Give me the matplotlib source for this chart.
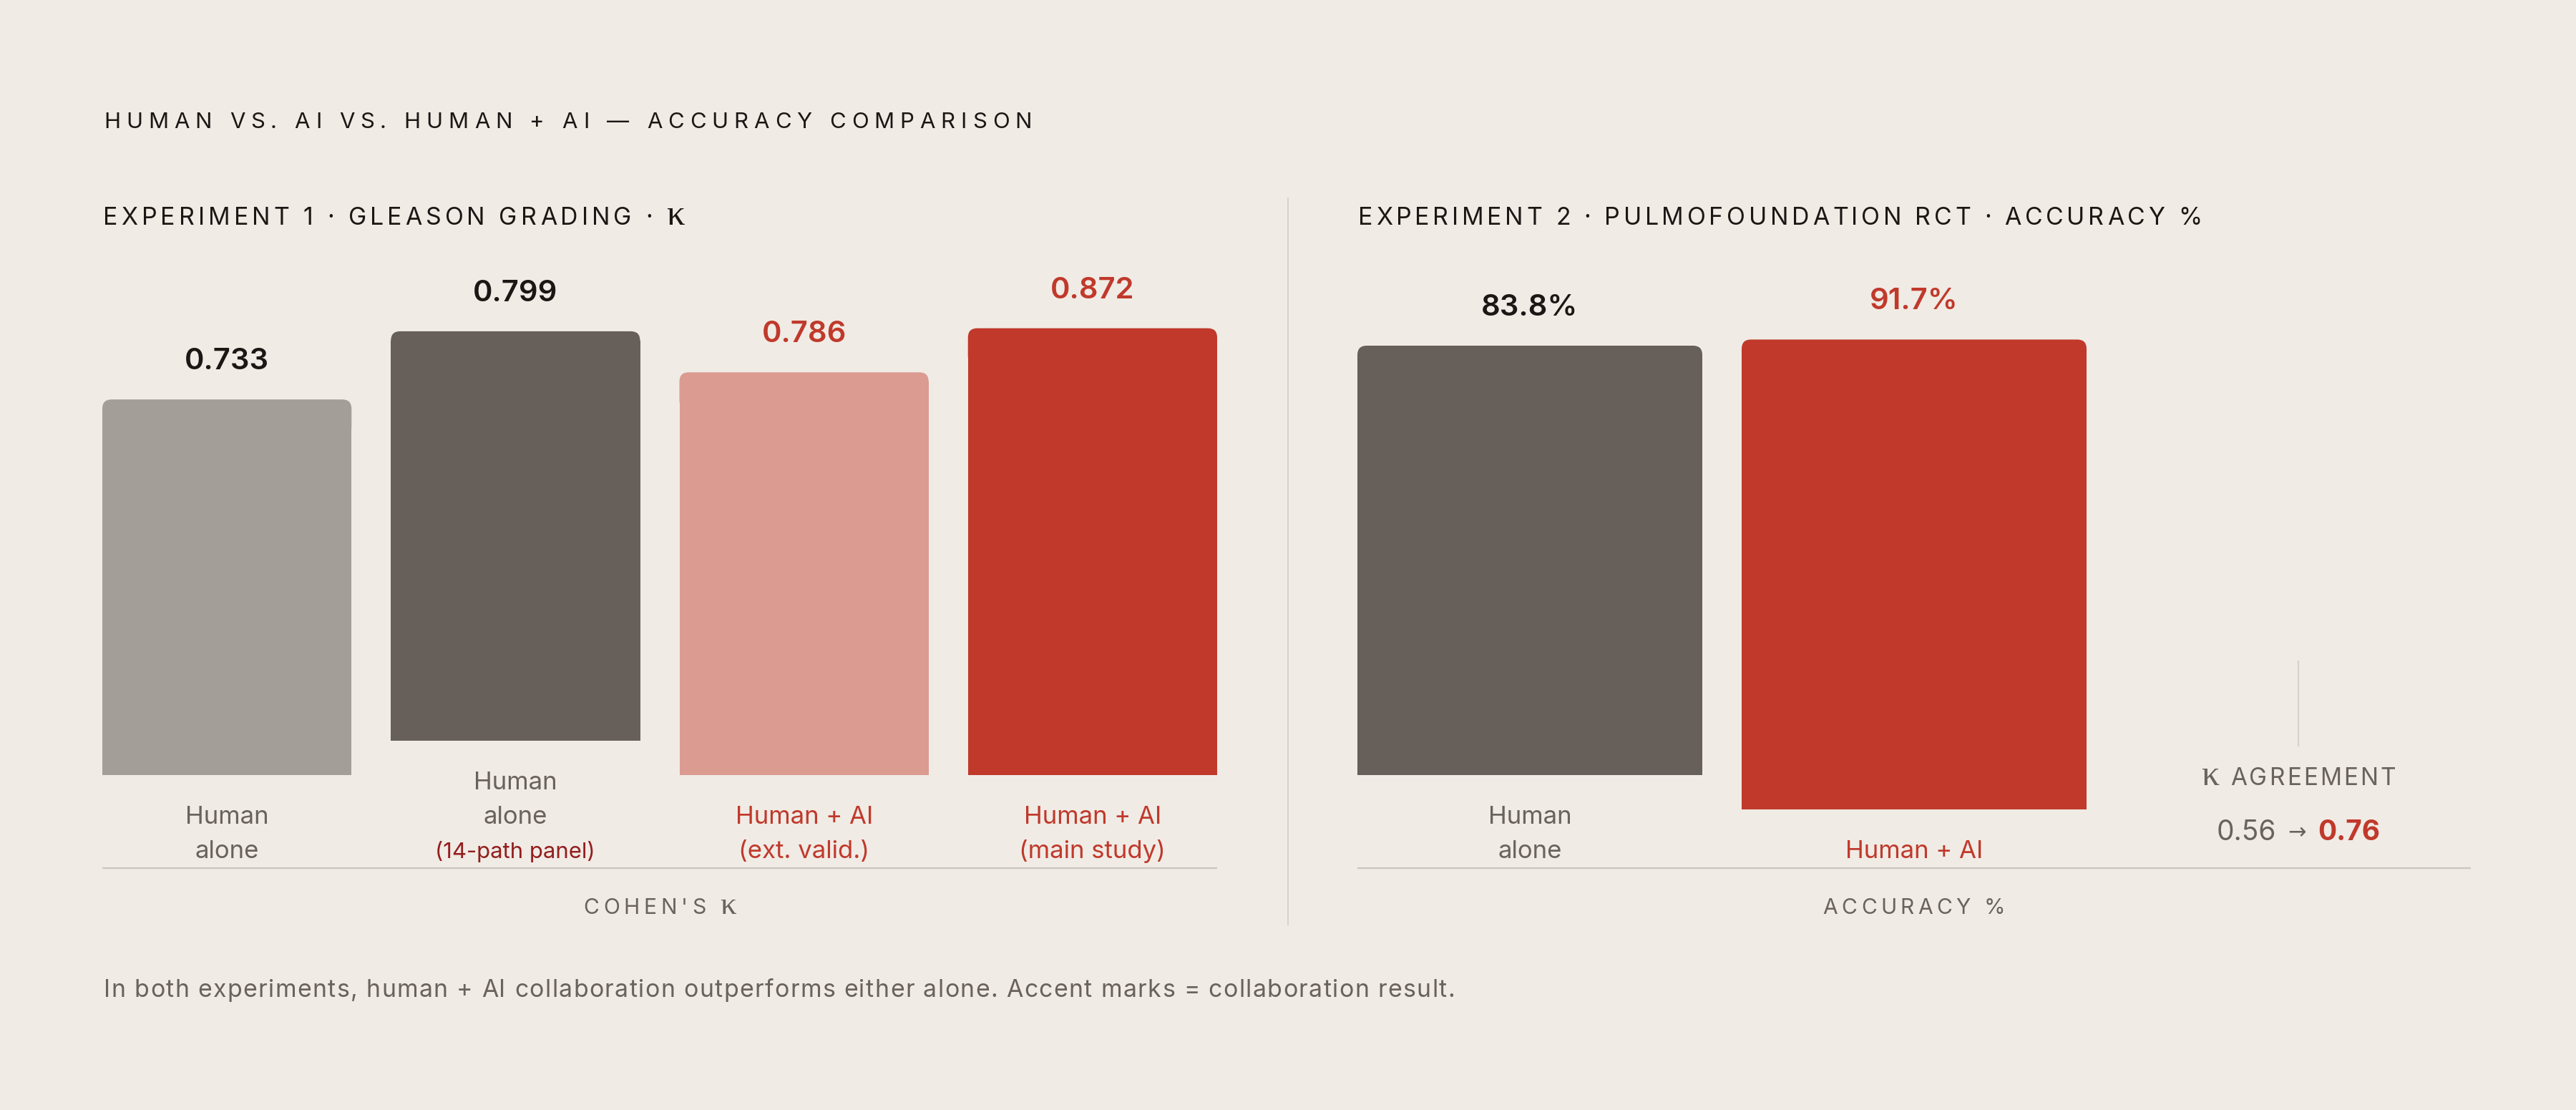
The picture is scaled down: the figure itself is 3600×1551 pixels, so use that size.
import matplotlib
matplotlib.use("Agg")
import matplotlib.pyplot as plt
from matplotlib.font_manager import FontProperties
from matplotlib.patches import FancyBboxPatch

# ---------------- data ----------------
title = "HUMAN VS. AI VS. HUMAN + AI — ACCURACY COMPARISON"
exp1_header = "EXPERIMENT 1 · GLEASON GRADING · κ"
exp2_header = "EXPERIMENT 2 · PULMOFOUNDATION RCT · ACCURACY %"

exp1_labels = [["Human", "alone"],
               ["Human", "alone", "(14-path panel)"],
               ["Human + AI", "(ext. valid.)"],
               ["Human + AI", "(main study)"]]
exp1_values = [0.733, 0.799, 0.786, 0.872]
exp1_value_text = ["0.733", "0.799", "0.786", "0.872"]

exp2_labels = [["Human", "alone"], ["Human + AI"]]
exp2_values = [83.8, 91.7]
exp2_value_text = ["83.8%", "91.7%"]

kappa_label = "κ AGREEMENT"
kappa_before = "0.56"
kappa_after = "0.76"

exp1_axis_label = "COHEN'S κ"
exp2_axis_label = "ACCURACY %"
footnote = ("In both experiments, human + AI collaboration outperforms either alone. "
            "Accent marks = collaboration result.")

# ---------------- style ----------------
BG = "#F0EBE5"
INK = "#1C1714"
GRAY = "#6A625C"
RED = "#C0392B"
DARKRED = "#931E1E"
RULE = "#CCC6BF"
DIVIDER = "#D8D2CB"

exp1_bar_colors = ["#A39E98", "#675F59", "#DB9B91", "#C0392B"]
exp1_value_colors = [INK, INK, RED, RED]
exp1_label_colors = [[GRAY, GRAY], [GRAY, GRAY, DARKRED], [RED, RED], [RED, RED]]
exp1_label_small = [[False, False], [False, False, True], [False, False], [False, False]]

exp2_bar_colors = ["#675F59", "#C0392B"]
exp2_value_colors = [INK, RED]
exp2_label_colors = [[GRAY, GRAY], [RED]]
exp2_label_small = [[False, False], [False]]

FAM = "Inter"
SERIF = "Liberation Serif"

W, H, DPI = 3600, 1551, 200
fig = plt.figure(figsize=(W / DPI, H / DPI), dpi=DPI)
fig.patch.set_facecolor(BG)
ax = fig.add_axes([0, 0, 1, 1])
ax.set_xlim(0, W)
ax.set_ylim(H, 0)
ax.axis("off")
ax.set_facecolor(BG)
renderer = fig.canvas.get_renderer()


def fp(size, weight="normal", family=FAM):
    return FontProperties(family=family, size=size, weight=weight)


def tw(s, prop):
    if not s.strip():
        return 0.0
    w, h, d = renderer.get_text_width_height_descent(s, prop, ismath=False)
    return w


def spaced_text(x, y, s, prop, color, ha="left", target=None, tracking=0.0,
                serif_chars="κ"):
    n = len(s)
    sprop = FontProperties(family=SERIF, size=prop.get_size() * 1.5, weight="normal")
    extra_total = sum(tw(c, sprop) - tw(c, prop) for c in s if c in serif_chars)
    natural = tw(s, prop) + extra_total
    if target is not None and n > 1:
        tracking = (target - natural) / (n - 1)
    total = natural + tracking * (n - 1)
    if ha == "center":
        x0 = x - total / 2
    elif ha == "right":
        x0 = x - total
    else:
        x0 = x
    extra = 0.0
    for i, c in enumerate(s):
        if c == " ":
            continue
        left = tw(s[:i + 1], prop) - tw(c, prop)
        p = sprop if c in serif_chars else prop
        ax.text(x0 + left + tracking * i + extra, y, c, fontproperties=p,
                color=color, ha="left", va="baseline")
        if c in serif_chars:
            extra += tw(c, sprop) - tw(c, prop)
    return total


# ---------------- layout ----------------
AXIS_Y = 1213
LINE_PITCH = 48
LAST_BASE = AXIS_Y - 14
BAR_GAP_BELOW = 68
PX_PER_UNIT = 716.0
GAP = 55
RADIUS = 13

P1 = (143, 1701)
P2 = (1897, 3453)

# titles
spaced_text(145, 179, title, fp(11.2), INK, target=1297)
spaced_text(144, 314, exp1_header, fp(12.2), INK, target=813)
spaced_text(1898, 314, exp2_header, fp(12.2), INK, target=1179)

# divider
ax.plot([1800, 1800], [276, 1293], color=DIVIDER, lw=0.7, solid_capstyle="butt")


def draw_panel(x0, x1, ncols, values, scale, vtexts, vcolors, labels, lcolors,
               lsmall, colors):
    cw = (x1 - x0 - GAP * (ncols - 1)) / ncols
    centers = [x0 + cw / 2 + i * (cw + GAP) for i in range(len(values))]
    heights = [v * scale for v in values]
    bottoms = [LAST_BASE - (len(lab) - 1) * LINE_PITCH - BAR_GAP_BELOW for lab in labels]
    body = ax.bar(centers, [-(h - RADIUS) for h in heights], bottom=bottoms,
                  width=cw, color=colors, linewidth=0, zorder=2)
    for rect, h, b, col in zip(body, heights, bottoms, colors):
        top = b - h
        cap = FancyBboxPatch((rect.get_x() + RADIUS, top + RADIUS),
                             cw - 2 * RADIUS, 2 * RADIUS,
                             boxstyle=f"round,pad={RADIUS},rounding_size={RADIUS}",
                             facecolor=col, edgecolor="none", zorder=2,
                             mutation_aspect=1)
        ax.add_patch(cap)
    for cx, h, b, vt, vc in zip(centers, heights, bottoms, vtexts, vcolors):
        ax.text(cx, b - h - 42, vt, fontproperties=fp(15.0, "semibold"), color=vc,
                ha="center", va="baseline", zorder=3)
    for cx, lab, lc, ls in zip(centers, labels, lcolors, lsmall):
        n = len(lab)
        for j, (line, c, sm) in enumerate(zip(lab, lc, ls)):
            yb = LAST_BASE - (n - 1 - j) * LINE_PITCH
            ax.text(cx, yb, line, fontproperties=fp(11.2 if sm else 12.5), color=c,
                    ha="center", va="baseline", zorder=3)
    ax.plot([x0, x1], [AXIS_Y, AXIS_Y], color=RULE, lw=0.8, solid_capstyle="butt",
            zorder=1)
    return centers, cw


draw_panel(P1[0], P1[1], 4, exp1_values, PX_PER_UNIT, exp1_value_text,
           exp1_value_colors, exp1_labels, exp1_label_colors, exp1_label_small,
           exp1_bar_colors)
c2, cw2 = draw_panel(P2[0], P2[1], 3, exp2_values, PX_PER_UNIT / 100.0,
                     exp2_value_text, exp2_value_colors, exp2_labels,
                     exp2_label_colors, exp2_label_small, exp2_bar_colors)

# axis labels
spaced_text((P1[0] + P1[1]) / 2, 1277, exp1_axis_label, fp(10.8), GRAY,
            ha="center", target=214)
spaced_text((P2[0] + P2[1]) / 2, 1277, exp2_axis_label, fp(10.8), GRAY,
            ha="center", target=255)

# kappa agreement column (third slot of panel 2)
kx = c2[1] + cw2 + GAP
ax.plot([kx, kx], [AXIS_Y - 290, AXIS_Y - 170], color=DIVIDER, lw=0.8,
        solid_capstyle="butt")
spaced_text(kx, AXIS_Y - 116, kappa_label, fp(12.0), GRAY, ha="center", target=271)

p_reg = fp(14.0)
p_bold = fp(14.0, "bold")
p_arrow = fp(11.0, family="DejaVu Sans")
arrow = "→"
sp = 16
w1 = tw(kappa_before, p_reg)
wa = tw(arrow, p_arrow)
w2 = tw(kappa_after, p_bold)
total = w1 + sp + wa + sp + w2
xs = kx - total / 2
yb = AXIS_Y - 39
ax.text(xs, yb, kappa_before, fontproperties=p_reg, color=GRAY, ha="left", va="baseline")
ax.text(xs + w1 + sp, yb - 2, arrow, fontproperties=p_arrow, color=GRAY, ha="left",
        va="baseline")
ax.text(xs + w1 + sp + wa + sp, yb, kappa_after, fontproperties=p_bold, color=RED,
        ha="left", va="baseline")

# footnote
spaced_text(145, 1393, footnote, fp(12.2), GRAY, target=1888)

fig.savefig("out.png", dpi=DPI, facecolor=BG)
